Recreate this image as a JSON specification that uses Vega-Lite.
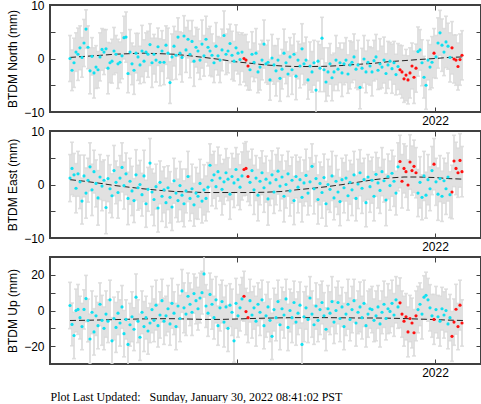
{
"$schema":"https://vega.github.io/schema/vega-lite/v6.json",
"background":"white",
"padding":{"left":4,"top":-2,"right":0,"bottom":0},
"spacing":19,
"bounds":"flush",
"datasets":{
"obs":[
{"date":"2021-01-01","n":0.0,"sn":4.3,"e":1.2,"se":4.4,"u":2.8,"su":13,"s":"F"},
{"date":"2021-01-03","n":-2.2,"sn":3.8,"e":3.0,"se":4.9,"u":-7.8,"su":12,"s":"F"},
{"date":"2021-01-05","n":-0.8,"sn":4.6,"e":1.8,"se":4.0,"u":-14.0,"su":13,"s":"F"},
{"date":"2021-01-07","n":1.2,"sn":3.6,"e":-0.7,"se":4.6,"u":0.0,"su":12,"s":"F"},
{"date":"2021-01-09","n":0.8,"sn":4.9,"e":2.0,"se":4.2,"u":0.6,"su":14,"s":"F"},
{"date":"2021-01-11","n":2.0,"sn":4.1,"e":0.5,"se":5.0,"u":-4.0,"su":12,"s":"F"},
{"date":"2021-01-13","n":0.2,"sn":3.7,"e":-3.1,"se":4.3,"u":-9.0,"su":13,"s":"F"},
{"date":"2021-01-15","n":2.9,"sn":4.4,"e":1.6,"se":3.9,"u":0.6,"su":11,"s":"F"},
{"date":"2021-01-17","n":5.5,"sn":3.6,"e":-1.6,"se":4.7,"u":6.7,"su":13,"s":"F"},
{"date":"2021-01-19","n":2.1,"sn":4.0,"e":0.8,"se":4.1,"u":-5.6,"su":12,"s":"F"},
{"date":"2021-01-21","n":-2.3,"sn":4.3,"e":3.3,"se":4.5,"u":-16.0,"su":14,"s":"F"},
{"date":"2021-01-23","n":0.4,"sn":3.5,"e":-1.0,"se":4.8,"u":-1.0,"su":12,"s":"F"},
{"date":"2021-01-25","n":-2.7,"sn":4.7,"e":2.4,"se":4.0,"u":-12.0,"su":13,"s":"F"},
{"date":"2021-01-27","n":-1.6,"sn":4.0,"e":0.2,"se":4.4,"u":-3.0,"su":11,"s":"F"},
{"date":"2021-01-29","n":-2.1,"sn":3.4,"e":-2.5,"se":5.1,"u":-8.5,"su":13,"s":"F"},
{"date":"2021-01-31","n":0.3,"sn":4.5,"e":1.4,"se":4.2,"u":3.5,"su":12,"s":"F"},
{"date":"2021-02-02","n":1.7,"sn":3.9,"e":-0.3,"se":4.6,"u":-5.5,"su":14,"s":"F"},
{"date":"2021-02-04","n":1.2,"sn":4.2,"e":0.8,"se":3.8,"u":-10.0,"su":12,"s":"F"},
{"date":"2021-02-06","n":1.8,"sn":3.6,"e":-4.3,"se":4.9,"u":-2.0,"su":13,"s":"F"},
{"date":"2021-02-08","n":-1.8,"sn":4.8,"e":1.1,"se":4.3,"u":-6.0,"su":12,"s":"F"},
{"date":"2021-02-10","n":-0.8,"sn":3.7,"e":-0.8,"se":4.5,"u":6.0,"su":11,"s":"F"},
{"date":"2021-02-12","n":-0.5,"sn":4.1,"e":-2.1,"se":4.1,"u":-17.0,"su":13,"s":"F"},
{"date":"2021-02-14","n":1.4,"sn":4.4,"e":2.6,"se":4.7,"u":-4.5,"su":12,"s":"F"},
{"date":"2021-02-16","n":0.8,"sn":3.5,"e":0.4,"se":4.0,"u":-9.5,"su":14,"s":"F"},
{"date":"2021-02-18","n":-1.0,"sn":4.6,"e":-1.5,"se":4.8,"u":-1.5,"su":12,"s":"F"},
{"date":"2021-02-20","n":-0.7,"sn":3.8,"e":1.2,"se":4.2,"u":-7.0,"su":13,"s":"F"},
{"date":"2021-02-22","n":0.5,"sn":4.3,"e":3.2,"se":4.6,"u":2.0,"su":12,"s":"F"},
{"date":"2021-02-24","n":3.9,"sn":4.0,"e":-0.2,"se":4.4,"u":-13.0,"su":13,"s":"F"},
{"date":"2021-02-26","n":4.0,"sn":4.7,"e":2.0,"se":3.9,"u":-5.0,"su":11,"s":"F"},
{"date":"2021-02-28","n":-2.8,"sn":3.6,"e":-2.6,"se":4.9,"u":-19.0,"su":13,"s":"F"},
{"date":"2021-03-02","n":1.2,"sn":4.2,"e":0.6,"se":4.3,"u":-8.0,"su":12,"s":"F"},
{"date":"2021-03-04","n":-1.0,"sn":3.9,"e":-1.2,"se":4.6,"u":-3.5,"su":14,"s":"F"},
{"date":"2021-03-06","n":-2.2,"sn":4.5,"e":-3.0,"se":4.1,"u":-10.5,"su":12,"s":"F"},
{"date":"2021-03-08","n":1.0,"sn":3.7,"e":1.8,"se":4.7,"u":7.5,"su":13,"s":"F"},
{"date":"2021-03-10","n":0.3,"sn":4.4,"e":-0.6,"se":4.2,"u":-6.0,"su":12,"s":"F"},
{"date":"2021-03-12","n":-1.2,"sn":3.5,"e":0.0,"se":4.5,"u":-15.0,"su":13,"s":"F"},
{"date":"2021-03-14","n":1.4,"sn":4.8,"e":-1.9,"se":4.0,"u":-1.0,"su":12,"s":"F"},
{"date":"2021-03-16","n":-0.5,"sn":4.0,"e":1.6,"se":4.8,"u":-9.0,"su":14,"s":"F"},
{"date":"2021-03-18","n":1.2,"sn":3.6,"e":-3.6,"se":4.4,"u":-4.0,"su":12,"s":"F"},
{"date":"2021-03-20","n":0.8,"sn":4.3,"e":-0.9,"se":4.1,"u":-11.5,"su":13,"s":"F"},
{"date":"2021-03-22","n":2.6,"sn":3.9,"e":4.0,"se":4.6,"u":-7.0,"su":11,"s":"F"},
{"date":"2021-03-24","n":-0.8,"sn":4.6,"e":-1.4,"se":4.3,"u":0.5,"su":13,"s":"F"},
{"date":"2021-03-26","n":0.8,"sn":3.7,"e":-2.8,"se":4.9,"u":-5.5,"su":12,"s":"F"},
{"date":"2021-03-28","n":-0.3,"sn":4.1,"e":-0.4,"se":4.2,"u":3.0,"su":14,"s":"F"},
{"date":"2021-03-30","n":2.2,"sn":3.5,"e":-4.4,"se":4.5,"u":-8.5,"su":12,"s":"F"},
{"date":"2021-04-01","n":-0.7,"sn":4.4,"e":0.4,"se":4.0,"u":-2.5,"su":13,"s":"F"},
{"date":"2021-04-03","n":1.4,"sn":3.8,"e":-2.2,"se":4.7,"u":5.5,"su":12,"s":"F"},
{"date":"2021-04-05","n":-0.7,"sn":4.2,"e":-1.0,"se":4.3,"u":-6.0,"su":13,"s":"F"},
{"date":"2021-04-07","n":2.5,"sn":3.6,"e":-3.4,"se":4.6,"u":-3.0,"su":11,"s":"F"},
{"date":"2021-04-09","n":1.0,"sn":4.7,"e":-0.6,"se":4.1,"u":1.0,"su":13,"s":"F"},
{"date":"2021-04-11","n":-4.5,"sn":3.9,"e":-2.4,"se":4.8,"u":-7.5,"su":12,"s":"F"},
{"date":"2021-04-13","n":0.3,"sn":4.3,"e":-4.2,"se":4.4,"u":4.0,"su":14,"s":"F"},
{"date":"2021-04-15","n":2.3,"sn":3.7,"e":0.7,"se":4.2,"u":-1.5,"su":12,"s":"F"},
{"date":"2021-04-17","n":0.6,"sn":4.5,"e":-1.6,"se":4.6,"u":-9.0,"su":13,"s":"F"},
{"date":"2021-04-19","n":4.0,"sn":3.6,"e":-3.0,"se":4.0,"u":2.5,"su":12,"s":"F"},
{"date":"2021-04-21","n":1.0,"sn":4.0,"e":-0.2,"se":4.5,"u":-4.5,"su":13,"s":"F"},
{"date":"2021-04-23","n":0.2,"sn":4.6,"e":-2.0,"se":4.9,"u":11.0,"su":12,"s":"F"},
{"date":"2021-04-25","n":4.2,"sn":3.8,"e":-3.6,"se":4.3,"u":1.5,"su":14,"s":"F"},
{"date":"2021-04-27","n":1.6,"sn":4.2,"e":-1.2,"se":4.1,"u":-2.0,"su":12,"s":"F"},
{"date":"2021-04-29","n":3.6,"sn":3.5,"e":1.5,"se":4.7,"u":8.0,"su":13,"s":"F"},
{"date":"2021-05-01","n":0.8,"sn":4.4,"e":-2.6,"se":4.2,"u":3.5,"su":12,"s":"F"},
{"date":"2021-05-03","n":3.2,"sn":3.9,"e":-0.8,"se":4.6,"u":-1.0,"su":13,"s":"F"},
{"date":"2021-05-05","n":-0.5,"sn":4.7,"e":-3.8,"se":4.0,"u":9.5,"su":11,"s":"F"},
{"date":"2021-05-07","n":2.1,"sn":3.7,"e":-1.6,"se":4.8,"u":5.5,"su":13,"s":"F"},
{"date":"2021-05-09","n":1.4,"sn":4.1,"e":-2.2,"se":4.3,"u":1.0,"su":12,"s":"F"},
{"date":"2021-05-11","n":-0.3,"sn":3.6,"e":0.2,"se":4.5,"u":7.0,"su":14,"s":"F"},
{"date":"2021-05-13","n":2.7,"sn":4.5,"e":-3.1,"se":4.1,"u":10.0,"su":12,"s":"F"},
{"date":"2021-05-15","n":0.5,"sn":3.8,"e":-1.0,"se":4.7,"u":20.5,"su":13,"s":"F"},
{"date":"2021-05-17","n":3.6,"sn":4.3,"e":-2.6,"se":4.2,"u":2.5,"su":12,"s":"F"},
{"date":"2021-05-19","n":2.1,"sn":3.5,"e":-0.5,"se":4.6,"u":-1.5,"su":13,"s":"F"},
{"date":"2021-05-21","n":1.4,"sn":4.6,"e":3.6,"se":4.0,"u":9.0,"su":12,"s":"F"},
{"date":"2021-05-23","n":0.6,"sn":4.0,"e":0.8,"se":4.8,"u":3.5,"su":14,"s":"F"},
{"date":"2021-05-25","n":-0.8,"sn":3.7,"e":1.8,"se":4.4,"u":-4.0,"su":12,"s":"F"},
{"date":"2021-05-27","n":2.3,"sn":4.4,"e":-0.4,"se":4.1,"u":6.0,"su":13,"s":"F"},
{"date":"2021-05-29","n":0.5,"sn":3.6,"e":2.4,"se":4.6,"u":-8.5,"su":11,"s":"F"},
{"date":"2021-05-31","n":-0.3,"sn":4.2,"e":1.2,"se":4.3,"u":1.5,"su":13,"s":"F"},
{"date":"2021-06-02","n":1.6,"sn":3.9,"e":-0.9,"se":4.8,"u":5.0,"su":12,"s":"F"},
{"date":"2021-06-04","n":4.3,"sn":4.6,"e":0.5,"se":4.2,"u":-6.5,"su":14,"s":"F"},
{"date":"2021-06-06","n":0.8,"sn":3.8,"e":2.2,"se":4.5,"u":2.0,"su":12,"s":"F"},
{"date":"2021-06-08","n":1.4,"sn":4.1,"e":1.0,"se":4.0,"u":-10.0,"su":13,"s":"F"},
{"date":"2021-06-10","n":2.8,"sn":3.6,"e":-1.8,"se":4.7,"u":3.0,"su":12,"s":"F"},
{"date":"2021-06-12","n":0.6,"sn":4.5,"e":1.5,"se":4.3,"u":-1.0,"su":13,"s":"F"},
{"date":"2021-06-14","n":-0.5,"sn":3.7,"e":0.3,"se":4.6,"u":-17.0,"su":12,"s":"F"},
{"date":"2021-06-16","n":2.0,"sn":4.3,"e":2.8,"se":4.1,"u":4.0,"su":14,"s":"F"},
{"date":"2021-06-18","n":1.0,"sn":3.9,"e":0.9,"se":4.8,"u":-3.0,"su":12,"s":"F"},
{"date":"2021-06-20","n":-0.2,"sn":4.7,"e":-0.5,"se":4.2,"u":1.5,"su":13,"s":"F"},
{"date":"2021-06-22","n":1.2,"sn":3.6,"e":1.6,"se":4.5,"u":6.5,"su":12,"s":"F"},
{"date":"2021-06-24","n":0.0,"sn":4.4,"e":2.8,"se":4.9,"u":8.0,"su":14,"s":"R"},
{"date":"2021-06-26","n":-0.3,"sn":4.8,"e":3.0,"se":5.0,"u":-0.6,"su":13,"s":"R"},
{"date":"2021-06-28","n":-1.4,"sn":4.5,"e":1.5,"se":4.7,"u":-4.0,"su":14,"s":"R"},
{"date":"2021-06-30","n":-2.1,"sn":3.8,"e":0.4,"se":4.3,"u":5.5,"su":12,"s":"F"},
{"date":"2021-07-02","n":0.8,"sn":4.2,"e":2.6,"se":4.0,"u":-2.5,"su":13,"s":"F"},
{"date":"2021-07-04","n":-0.7,"sn":3.6,"e":-1.0,"se":4.6,"u":1.5,"su":12,"s":"F"},
{"date":"2021-07-06","n":1.0,"sn":4.6,"e":1.2,"se":4.2,"u":-6.0,"su":14,"s":"F"},
{"date":"2021-07-08","n":-2.5,"sn":3.9,"e":-2.0,"se":4.8,"u":3.5,"su":12,"s":"F"},
{"date":"2021-07-10","n":-1.6,"sn":4.3,"e":0.6,"se":4.4,"u":-1.0,"su":13,"s":"F"},
{"date":"2021-07-12","n":-0.3,"sn":3.7,"e":2.2,"se":4.1,"u":6.0,"su":11,"s":"F"},
{"date":"2021-07-14","n":2.7,"sn":4.5,"e":-0.6,"se":4.6,"u":-8.5,"su":13,"s":"F"},
{"date":"2021-07-16","n":-1.0,"sn":3.5,"e":1.0,"se":4.3,"u":-3.0,"su":12,"s":"F"},
{"date":"2021-07-18","n":-0.7,"sn":4.1,"e":-2.7,"se":4.9,"u":2.0,"su":14,"s":"F"},
{"date":"2021-07-20","n":-4.0,"sn":3.8,"e":0.3,"se":4.2,"u":-5.5,"su":12,"s":"F"},
{"date":"2021-07-22","n":0.1,"sn":4.4,"e":1.8,"se":4.5,"u":-14.5,"su":13,"s":"F"},
{"date":"2021-07-24","n":-1.2,"sn":3.6,"e":-1.4,"se":4.0,"u":0.5,"su":12,"s":"F"},
{"date":"2021-07-26","n":-2.3,"sn":4.7,"e":0.9,"se":4.7,"u":-4.0,"su":13,"s":"F"},
{"date":"2021-07-28","n":-0.3,"sn":4.0,"e":2.5,"se":4.3,"u":5.0,"su":12,"s":"F"},
{"date":"2021-07-30","n":-3.7,"sn":4.3,"e":-0.3,"se":4.6,"u":-8.0,"su":14,"s":"F"},
{"date":"2021-08-01","n":-2.0,"sn":3.7,"e":1.4,"se":4.1,"u":1.0,"su":12,"s":"F"},
{"date":"2021-08-03","n":1.0,"sn":4.5,"e":-2.2,"se":4.8,"u":-2.5,"su":13,"s":"F"},
{"date":"2021-08-05","n":-0.8,"sn":3.9,"e":0.0,"se":4.4,"u":6.5,"su":11,"s":"F"},
{"date":"2021-08-07","n":-2.9,"sn":4.2,"e":2.0,"se":4.2,"u":-9.5,"su":13,"s":"F"},
{"date":"2021-08-09","n":0.3,"sn":3.6,"e":-1.2,"se":4.7,"u":0.0,"su":12,"s":"F"},
{"date":"2021-08-11","n":-2.1,"sn":4.6,"e":0.8,"se":4.3,"u":-4.0,"su":14,"s":"F"},
{"date":"2021-08-13","n":0.8,"sn":3.8,"e":-3.0,"se":4.5,"u":4.5,"su":12,"s":"F"},
{"date":"2021-08-15","n":-3.3,"sn":4.4,"e":1.5,"se":4.0,"u":-6.5,"su":13,"s":"F"},
{"date":"2021-08-17","n":-0.3,"sn":3.5,"e":-0.5,"se":4.8,"u":-1.5,"su":12,"s":"F"},
{"date":"2021-08-19","n":-1.4,"sn":4.1,"e":0.9,"se":4.2,"u":3.0,"su":13,"s":"F"},
{"date":"2021-08-21","n":1.8,"sn":4.7,"e":-2.4,"se":4.6,"u":-19.0,"su":12,"s":"F"},
{"date":"2021-08-23","n":-1.0,"sn":3.9,"e":0.3,"se":4.3,"u":-3.5,"su":14,"s":"F"},
{"date":"2021-08-25","n":-0.3,"sn":4.3,"e":1.7,"se":4.9,"u":1.5,"su":12,"s":"F"},
{"date":"2021-08-27","n":-4.0,"sn":3.6,"e":-1.6,"se":4.1,"u":-5.0,"su":13,"s":"F"},
{"date":"2021-08-29","n":-1.4,"sn":4.5,"e":0.5,"se":4.5,"u":7.0,"su":12,"s":"F"},
{"date":"2021-08-31","n":-2.5,"sn":3.8,"e":3.4,"se":4.2,"u":-2.0,"su":13,"s":"F"},
{"date":"2021-09-02","n":-0.8,"sn":4.2,"e":-0.8,"se":4.7,"u":-8.0,"su":11,"s":"F"},
{"date":"2021-09-04","n":-5.9,"sn":4.6,"e":1.1,"se":4.3,"u":2.5,"su":13,"s":"F"},
{"date":"2021-09-06","n":-0.5,"sn":3.7,"e":-2.8,"se":4.6,"u":-5.5,"su":12,"s":"F"},
{"date":"2021-09-08","n":-1.8,"sn":4.4,"e":0.2,"se":4.0,"u":0.5,"su":14,"s":"F"},
{"date":"2021-09-10","n":3.8,"sn":3.9,"e":-1.5,"se":4.8,"u":4.5,"su":12,"s":"F"},
{"date":"2021-09-12","n":-2.1,"sn":4.1,"e":1.3,"se":4.4,"u":-3.0,"su":13,"s":"F"},
{"date":"2021-09-14","n":-4.4,"sn":3.6,"e":-3.6,"se":4.2,"u":-10.5,"su":12,"s":"F"},
{"date":"2021-09-16","n":-2.5,"sn":4.5,"e":0.0,"se":4.7,"u":1.0,"su":13,"s":"F"},
{"date":"2021-09-18","n":-1.0,"sn":3.8,"e":-0.9,"se":4.3,"u":-1.5,"su":12,"s":"F"},
{"date":"2021-09-20","n":-3.6,"sn":4.3,"e":1.6,"se":4.6,"u":5.0,"su":14,"s":"F"},
{"date":"2021-09-22","n":-2.5,"sn":3.5,"e":-2.5,"se":4.1,"u":-6.5,"su":12,"s":"F"},
{"date":"2021-09-24","n":-0.3,"sn":4.6,"e":0.6,"se":4.8,"u":0.0,"su":13,"s":"F"},
{"date":"2021-09-26","n":-2.0,"sn":4.0,"e":-1.4,"se":4.2,"u":4.5,"su":12,"s":"F"},
{"date":"2021-09-28","n":-0.8,"sn":3.7,"e":-3.2,"se":4.5,"u":-4.5,"su":13,"s":"F"},
{"date":"2021-09-30","n":-2.7,"sn":4.4,"e":0.9,"se":4.0,"u":2.0,"su":11,"s":"F"},
{"date":"2021-10-02","n":-1.0,"sn":3.9,"e":-0.6,"se":4.7,"u":-9.0,"su":13,"s":"F"},
{"date":"2021-10-04","n":-0.3,"sn":4.2,"e":1.2,"se":4.3,"u":-2.0,"su":12,"s":"F"},
{"date":"2021-10-06","n":-2.9,"sn":3.6,"e":-2.1,"se":4.6,"u":3.5,"su":14,"s":"F"},
{"date":"2021-10-08","n":-1.2,"sn":4.5,"e":0.4,"se":4.1,"u":-5.0,"su":12,"s":"F"},
{"date":"2021-10-10","n":-0.7,"sn":3.8,"e":-1.0,"se":4.8,"u":0.5,"su":13,"s":"F"},
{"date":"2021-10-12","n":0.3,"sn":4.3,"e":1.8,"se":4.4,"u":5.5,"su":12,"s":"F"},
{"date":"2021-10-14","n":-2.0,"sn":3.5,"e":-2.6,"se":4.2,"u":-7.0,"su":13,"s":"F"},
{"date":"2021-10-16","n":-1.2,"sn":4.6,"e":0.1,"se":4.6,"u":-1.0,"su":12,"s":"F"},
{"date":"2021-10-18","n":-5.4,"sn":4.0,"e":2.2,"se":4.3,"u":2.0,"su":14,"s":"F"},
{"date":"2021-10-20","n":-1.8,"sn":3.7,"e":-0.7,"se":4.7,"u":-4.0,"su":12,"s":"F"},
{"date":"2021-10-22","n":-0.1,"sn":4.4,"e":0.9,"se":4.0,"u":4.0,"su":13,"s":"F"},
{"date":"2021-10-24","n":-2.5,"sn":3.9,"e":-3.4,"se":4.5,"u":-8.5,"su":12,"s":"F"},
{"date":"2021-10-26","n":-0.7,"sn":4.1,"e":1.4,"se":4.2,"u":-2.0,"su":13,"s":"F"},
{"date":"2021-10-28","n":-1.4,"sn":3.6,"e":-0.4,"se":4.8,"u":1.0,"su":11,"s":"F"},
{"date":"2021-10-30","n":-2.5,"sn":4.5,"e":0.8,"se":4.3,"u":0.5,"su":13,"s":"F"},
{"date":"2021-11-01","n":-0.4,"sn":3.8,"e":-2.2,"se":4.6,"u":-5.5,"su":12,"s":"F"},
{"date":"2021-11-03","n":0.3,"sn":4.2,"e":1.9,"se":4.1,"u":-3.0,"su":14,"s":"F"},
{"date":"2021-11-05","n":-2.2,"sn":3.6,"e":0.3,"se":4.7,"u":2.0,"su":12,"s":"F"},
{"date":"2021-11-07","n":-1.0,"sn":4.7,"e":-1.1,"se":4.3,"u":-7.5,"su":13,"s":"F"},
{"date":"2021-11-09","n":-1.6,"sn":3.9,"e":2.4,"se":4.5,"u":-1.0,"su":12,"s":"F"},
{"date":"2021-11-11","n":-0.3,"sn":4.3,"e":0.7,"se":4.0,"u":3.5,"su":13,"s":"F"},
{"date":"2021-11-13","n":-2.8,"sn":3.7,"e":-2.9,"se":4.8,"u":-4.5,"su":12,"s":"F"},
{"date":"2021-11-15","n":-1.2,"sn":4.4,"e":1.5,"se":4.2,"u":1.0,"su":14,"s":"F"},
{"date":"2021-11-17","n":-0.5,"sn":3.5,"e":-0.2,"se":4.6,"u":-0.5,"su":12,"s":"F"},
{"date":"2021-11-19","n":-1.9,"sn":4.6,"e":2.1,"se":4.3,"u":4.0,"su":13,"s":"F"},
{"date":"2021-11-21","n":-0.8,"sn":4.0,"e":0.6,"se":4.7,"u":-2.5,"su":12,"s":"F"},
{"date":"2021-11-23","n":-3.0,"sn":3.8,"e":-1.6,"se":4.1,"u":6.0,"su":13,"s":"F"},
{"date":"2021-11-25","n":-1.5,"sn":4.3,"e":3.3,"se":4.5,"u":2.0,"su":12,"s":"F"},
{"date":"2021-11-27","n":-2.1,"sn":4.6,"e":4.3,"se":4.9,"u":4.3,"su":14,"s":"R"},
{"date":"2021-11-29","n":-2.5,"sn":4.9,"e":0.6,"se":5.0,"u":-2.0,"su":13,"s":"R"},
{"date":"2021-12-01","n":-3.8,"sn":4.4,"e":3.0,"se":4.6,"u":-6.0,"su":14,"s":"R"},
{"date":"2021-12-03","n":-3.1,"sn":4.8,"e":2.4,"se":4.8,"u":-3.5,"su":13,"s":"R"},
{"date":"2021-12-05","n":-4.0,"sn":4.5,"e":-0.1,"se":4.7,"u":-12.0,"su":14,"s":"R"},
{"date":"2021-12-07","n":-2.7,"sn":4.7,"e":4.2,"se":5.1,"u":-4.5,"su":13,"s":"R"},
{"date":"2021-12-09","n":-1.4,"sn":4.3,"e":2.6,"se":4.6,"u":-7.0,"su":14,"s":"R"},
{"date":"2021-12-11","n":-3.5,"sn":4.9,"e":3.4,"se":4.9,"u":-12.5,"su":13,"s":"R"},
{"date":"2021-12-13","n":-1.8,"sn":4.5,"e":2.2,"se":4.7,"u":-3.0,"su":14,"s":"R"},
{"date":"2021-12-15","n":1.3,"sn":4.6,"e":-1.6,"se":4.4,"u":0.5,"su":13,"s":"F"},
{"date":"2021-12-17","n":1.6,"sn":3.8,"e":0.4,"se":4.8,"u":3.5,"su":12,"s":"F"},
{"date":"2021-12-19","n":-0.8,"sn":4.3,"e":-2.4,"se":4.2,"u":-2.0,"su":14,"s":"F"},
{"date":"2021-12-21","n":-3.5,"sn":3.9,"e":1.6,"se":4.6,"u":7.5,"su":12,"s":"F"},
{"date":"2021-12-23","n":-5.0,"sn":4.5,"e":-2.0,"se":4.3,"u":8.5,"su":13,"s":"F"},
{"date":"2021-12-25","n":-0.3,"sn":3.7,"e":0.9,"se":4.7,"u":6.0,"su":12,"s":"F"},
{"date":"2021-12-27","n":-1.6,"sn":4.2,"e":-0.8,"se":4.1,"u":1.5,"su":13,"s":"F"},
{"date":"2021-12-29","n":-0.7,"sn":4.8,"e":2.6,"se":4.5,"u":-3.0,"su":12,"s":"F"},
{"date":"2021-12-31","n":1.0,"sn":4.6,"e":3.8,"se":4.8,"u":-5.0,"su":14,"s":"R"},
{"date":"2022-01-02","n":0.3,"sn":4.0,"e":0.5,"se":4.4,"u":0.5,"su":13,"s":"F"},
{"date":"2022-01-04","n":2.9,"sn":4.7,"e":-1.8,"se":4.9,"u":-3.5,"su":12,"s":"F"},
{"date":"2022-01-06","n":4.8,"sn":4.2,"e":1.1,"se":4.3,"u":-6.0,"su":14,"s":"F"},
{"date":"2022-01-08","n":2.5,"sn":4.9,"e":-2.2,"se":4.7,"u":1.0,"su":12,"s":"F"},
{"date":"2022-01-10","n":1.2,"sn":4.4,"e":0.7,"se":4.2,"u":-2.5,"su":13,"s":"F"},
{"date":"2022-01-12","n":3.1,"sn":4.8,"e":-0.8,"se":4.8,"u":0.0,"su":12,"s":"F"},
{"date":"2022-01-14","n":2.3,"sn":4.3,"e":1.4,"se":4.5,"u":-7.5,"su":14,"s":"F"},
{"date":"2022-01-16","n":0.2,"sn":4.6,"e":-1.9,"se":4.3,"u":-4.0,"su":13,"s":"F"},
{"date":"2022-01-18","n":2.0,"sn":4.9,"e":-1.4,"se":5.0,"u":-14.5,"su":14,"s":"R"},
{"date":"2022-01-20","n":-0.1,"sn":4.5,"e":4.4,"se":4.8,"u":-6.5,"su":13,"s":"R"},
{"date":"2022-01-22","n":-0.3,"sn":4.7,"e":3.0,"se":4.9,"u":0.7,"su":14,"s":"R"},
{"date":"2022-01-24","n":-1.5,"sn":4.4,"e":2.2,"se":4.6,"u":-9.0,"su":13,"s":"R"},
{"date":"2022-01-26","n":-0.2,"sn":4.8,"e":4.5,"se":5.0,"u":3.0,"su":14,"s":"R"},
{"date":"2022-01-28","n":0.6,"sn":4.6,"e":2.4,"se":4.7,"u":-7.0,"su":13,"s":"R"}
],
"trend":[
{"date":"2021-01-01","tn":0.2,"te":0.9,"tu":-5.6},
{"date":"2021-01-16","tn":0.4,"te":0.6,"tu":-5.5},
{"date":"2021-02-01","tn":0.6,"te":0.2,"tu":-5.3},
{"date":"2021-02-15","tn":0.8,"te":-0.2,"tu":-5.1},
{"date":"2021-03-01","tn":0.9,"te":-0.5,"tu":-4.9},
{"date":"2021-03-15","tn":1.0,"te":-0.8,"tu":-4.7},
{"date":"2021-04-01","tn":0.9,"te":-1.1,"tu":-4.6},
{"date":"2021-04-15","tn":0.8,"te":-1.3,"tu":-4.6},
{"date":"2021-05-01","tn":0.5,"te":-1.4,"tu":-4.8},
{"date":"2021-05-15","tn":0.2,"te":-1.5,"tu":-5.0},
{"date":"2021-06-01","tn":-0.2,"te":-1.5,"tu":-5.0},
{"date":"2021-06-15","tn":-0.6,"te":-1.5,"tu":-4.8},
{"date":"2021-07-01","tn":-0.9,"te":-1.5,"tu":-4.5},
{"date":"2021-07-15","tn":-1.2,"te":-1.45,"tu":-4.3},
{"date":"2021-08-01","tn":-1.4,"te":-1.3,"tu":-4.1},
{"date":"2021-08-15","tn":-1.5,"te":-1.0,"tu":-4.0},
{"date":"2021-09-01","tn":-1.5,"te":-0.7,"tu":-4.0},
{"date":"2021-09-15","tn":-1.45,"te":-0.4,"tu":-4.0},
{"date":"2021-10-01","tn":-1.3,"te":0.0,"tu":-4.1},
{"date":"2021-10-15","tn":-1.1,"te":0.4,"tu":-4.2},
{"date":"2021-11-01","tn":-0.9,"te":0.9,"tu":-4.2},
{"date":"2021-11-15","tn":-0.6,"te":1.2,"tu":-4.3},
{"date":"2021-12-01","tn":-0.4,"te":1.4,"tu":-4.5},
{"date":"2021-12-15","tn":-0.2,"te":1.4,"tu":-4.8},
{"date":"2022-01-01","tn":0.0,"te":1.3,"tu":-5.1},
{"date":"2022-01-15","tn":0.2,"te":1.1,"tu":-5.4},
{"date":"2022-01-29","tn":0.3,"te":1.0,"tu":-5.6}
]
},
"vconcat":[
{
"width":431,"height":107,
"resolve":{"axis":{"x":"independent","y":"independent"}},
"layer":[
{"data":{"name":"obs"},"mark":{"type":"errorbar","color":"#dadada","thickness":1.6,"ticks":{"size":4,"color":"#d6d6d6"},"clip":true},
"encoding":{"x":{"field":"date","type":"temporal","scale":{"type":"utc","domain":[{"year":2020,"month":12,"date":12,"utc":true},{"year":2022,"month":2,"date":16,"utc":true}]},"axis":null},
"y":{"field":"n","type":"quantitative","scale":{"domain":[-10,10]},"axis":null},"yError":{"field":"sn"}}},
{"data":{"name":"trend"},"mark":{"type":"line","color":"#222222","strokeWidth":1,"strokeDash":[6,3]},
"encoding":{"x":{"field":"date","type":"temporal","scale":{"type":"utc","domain":[{"year":2020,"month":12,"date":12,"utc":true},{"year":2022,"month":2,"date":16,"utc":true}]},"axis":{"orient":"top","values":[{"year":2021,"month":6,"date":17,"utc":true},{"year":2022,"month":1,"date":1,"utc":true}],"labels":false,"title":null,"tickSize":-5}},
"y":{"field":"tn","type":"quantitative","scale":{"domain":[-10,10]},"axis":{"orient":"right","values":[-5,0,5],"labels":false,"title":null,"tickSize":-5}}}},
{"data":{"name":"obs"},"mark":{"type":"circle","size":10,"opacity":1},
"encoding":{"x":{"field":"date","type":"temporal","scale":{"type":"utc","domain":[{"year":2020,"month":12,"date":12,"utc":true},{"year":2022,"month":2,"date":16,"utc":true}]},"axis":{"orient":"bottom","values":[{"year":2021,"month":6,"date":17,"utc":true},{"year":2022,"month":1,"date":1,"utc":true}],"format":"%Y","formatType":"utc","labelExpr":"datum.label == '2022' ? '2022' : ''","tickSize":-5,"labelPadding":8,"title":null}},
"y":{"field":"n","type":"quantitative","scale":{"domain":[-10,10]},"axis":{"values":[-10,-5,0,5,10],"labelExpr":"datum.value % 10 == 0 ? datum.label : ''","tickSize":-5,"labelPadding":11,"title":"BTDM North (mm)","titleX":-38,"titleBaseline":"middle"}},
"color":{"field":"s","type":"nominal","scale":{"domain":["F","R"],"range":["#10e0f0","#ff1010"]},"legend":null}}}
]
},
{
"width":431,"height":107,
"resolve":{"axis":{"x":"independent","y":"independent"}},
"layer":[
{"data":{"name":"obs"},"mark":{"type":"errorbar","color":"#dadada","thickness":1.6,"ticks":{"size":4,"color":"#d6d6d6"},"clip":true},
"encoding":{"x":{"field":"date","type":"temporal","scale":{"type":"utc","domain":[{"year":2020,"month":12,"date":12,"utc":true},{"year":2022,"month":2,"date":16,"utc":true}]},"axis":null},
"y":{"field":"e","type":"quantitative","scale":{"domain":[-10,10]},"axis":null},"yError":{"field":"se"}}},
{"data":{"name":"trend"},"mark":{"type":"line","color":"#222222","strokeWidth":1,"strokeDash":[6,3]},
"encoding":{"x":{"field":"date","type":"temporal","scale":{"type":"utc","domain":[{"year":2020,"month":12,"date":12,"utc":true},{"year":2022,"month":2,"date":16,"utc":true}]},"axis":{"orient":"top","values":[{"year":2021,"month":6,"date":17,"utc":true},{"year":2022,"month":1,"date":1,"utc":true}],"labels":false,"title":null,"tickSize":-5}},
"y":{"field":"te","type":"quantitative","scale":{"domain":[-10,10]},"axis":{"orient":"right","values":[-5,0,5],"labels":false,"title":null,"tickSize":-5}}}},
{"data":{"name":"obs"},"mark":{"type":"circle","size":10,"opacity":1},
"encoding":{"x":{"field":"date","type":"temporal","scale":{"type":"utc","domain":[{"year":2020,"month":12,"date":12,"utc":true},{"year":2022,"month":2,"date":16,"utc":true}]},"axis":{"orient":"bottom","values":[{"year":2021,"month":6,"date":17,"utc":true},{"year":2022,"month":1,"date":1,"utc":true}],"format":"%Y","formatType":"utc","labelExpr":"datum.label == '2022' ? '2022' : ''","tickSize":-5,"labelPadding":8,"title":null}},
"y":{"field":"e","type":"quantitative","scale":{"domain":[-10,10]},"axis":{"values":[-10,-5,0,5,10],"labelExpr":"datum.value % 10 == 0 ? datum.label : ''","tickSize":-5,"labelPadding":11,"title":"BTDM East (mm)","titleX":-38,"titleBaseline":"middle"}},
"color":{"field":"s","type":"nominal","scale":{"domain":["F","R"],"range":["#10e0f0","#ff1010"]},"legend":null}}}
]
},
{
"width":431,"height":107,
"resolve":{"axis":{"x":"independent","y":"independent"}},
"layer":[
{"data":{"name":"obs"},"mark":{"type":"errorbar","color":"#dadada","thickness":1.6,"ticks":{"size":4,"color":"#d6d6d6"},"clip":true},
"encoding":{"x":{"field":"date","type":"temporal","scale":{"type":"utc","domain":[{"year":2020,"month":12,"date":12,"utc":true},{"year":2022,"month":2,"date":16,"utc":true}]},"axis":null},
"y":{"field":"u","type":"quantitative","scale":{"domain":[-30,30]},"axis":null},"yError":{"field":"su"}}},
{"data":{"name":"trend"},"mark":{"type":"line","color":"#222222","strokeWidth":1,"strokeDash":[6,3]},
"encoding":{"x":{"field":"date","type":"temporal","scale":{"type":"utc","domain":[{"year":2020,"month":12,"date":12,"utc":true},{"year":2022,"month":2,"date":16,"utc":true}]},"axis":{"orient":"top","values":[{"year":2021,"month":6,"date":17,"utc":true},{"year":2022,"month":1,"date":1,"utc":true}],"labels":false,"title":null,"tickSize":-5}},
"y":{"field":"tu","type":"quantitative","scale":{"domain":[-30,30]},"axis":{"orient":"right","values":[-20,-10,0,10,20],"labels":false,"title":null,"tickSize":-5}}}},
{"data":{"name":"obs"},"mark":{"type":"circle","size":10,"opacity":1},
"encoding":{"x":{"field":"date","type":"temporal","scale":{"type":"utc","domain":[{"year":2020,"month":12,"date":12,"utc":true},{"year":2022,"month":2,"date":16,"utc":true}]},"axis":{"orient":"bottom","values":[{"year":2021,"month":6,"date":17,"utc":true},{"year":2022,"month":1,"date":1,"utc":true}],"format":"%Y","formatType":"utc","labelExpr":"datum.label == '2022' ? '2022' : ''","tickSize":-5,"labelPadding":8,"title":"Plot Last Updated:\u00a0\u00a0\u00a0Sunday, January 30, 2022 08:41:02 PST","titleFont":"Liberation Serif","titleFontSize":12,"titleFontWeight":"normal","titleAnchor":"start","titleAlign":"left","titleBaseline":"alphabetic","titleX":0,"titleY":36}},
"y":{"field":"u","type":"quantitative","scale":{"domain":[-30,30]},"axis":{"values":[-20,-10,0,10,20],"labelExpr":"datum.value % 20 == 0 ? datum.label : ''","tickSize":-5,"labelPadding":11,"title":"BTDM Up (mm)","titleX":-38,"titleBaseline":"middle"}},
"color":{"field":"s","type":"nominal","scale":{"domain":["F","R"],"range":["#10e0f0","#ff1010"]},"legend":null}}}
]
}
],
"config":{
"view":{"stroke":"#404040","strokeWidth":2},
"axis":{"labelFont":"Liberation Sans","labelFontSize":12,"labelColor":"#000000","titleFont":"Liberation Sans","titleFontSize":12,"titleFontWeight":"normal","titleColor":"#000000","grid":false,"domain":false,"tickColor":"#404040","tickWidth":1}
}
}
